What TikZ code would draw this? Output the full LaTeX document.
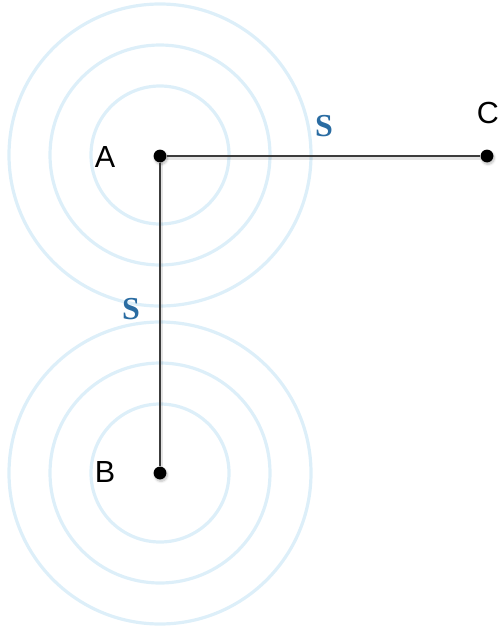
\documentclass[tikz,border=0pt]{standalone}
\usepackage{fontspec}
\setmainfont{Liberation Sans}
\newfontfamily\serifbold{Liberation Serif Bold}
\usepackage{tikz}
\usetikzlibrary{shadows.blur}
\definecolor{ringblue}{HTML}{DDEFF9}
\definecolor{labelblue}{HTML}{2A6CA2}
\definecolor{edgegray}{HTML}{3C3C3C}
\tikzset{
  dot/.style={circle,fill=black,inner sep=0pt,minimum size=12.8pt,
    blur shadow={shadow xshift=1pt,shadow yshift=-2pt,shadow opacity=25,shadow blur steps=6}},
  ring/.style={draw=ringblue,line width=3.2pt},
  edge/.style={draw=edgegray,line width=1.4pt},
  edgeshadow/.style={draw=black,opacity=.1,line width=3pt,transform canvas={shift={(1,2)}}},
  ptlabel/.style={font=\fontsize{30.5}{36}\selectfont,text=black,inner sep=0pt},
  slabel/.style={font=\serifbold\fontsize{32}{36}\selectfont,text=labelblue,inner sep=0pt}
}
\begin{document}
\begin{tikzpicture}[x=1pt,y=-1pt]
\useasboundingbox (0,0) rectangle (500,626);
% rings
\foreach \r in {69,110,151} {
  \draw[ring] (160,155) circle (\r);
  \draw[ring] (160,473) circle (\r);
}
% points
\node[dot] (A) at (160,156) {};
\node[dot] (B) at (160,473) {};
\node[dot] (C) at (487,156) {};
% edges
\draw[edgeshadow] (A.center) -- (C.center);
\draw[edgeshadow] (A.center) -- (B.center);
\draw[edge] (A) -- (C);
\draw[edge] (A) -- (B);
% labels
\node[ptlabel] (labA) at (105,157) {A};
\node[ptlabel] (labB) at (105,472) {B};
\node[ptlabel] (labC) at (488,113) {C};
\node[slabel] (sAC) at (324,126) {S};
\node[slabel] (sAB) at (131,309) {S};
\end{tikzpicture}
\end{document}
